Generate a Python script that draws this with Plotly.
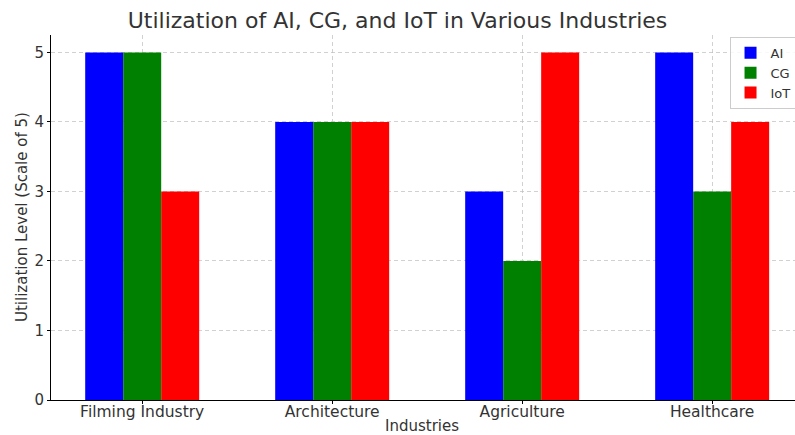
import plotly.graph_objects as go

industries = ["Filming Industry", "Architecture", "Agriculture", "Healthcare"]
ai = [5, 4, 3, 5]
cg = [5, 4, 2, 3]
iot = [3, 4, 5, 4]
series = [("AI", ai, "#0000ff"), ("CG", cg, "#008000"), ("IoT", iot, "#ff0000")]

fig = go.Figure()
for name, vals, color in series:
    fig.add_trace(go.Bar(name=name, x=list(range(len(industries))), y=vals,
                         marker=dict(color=color, line=dict(width=0))))

font_family = "DejaVu Sans"
text_color = "#333333"
fig.update_layout(
    width=795, height=435,
    margin=dict(l=51, r=0, t=35, b=35, autoexpand=False),
    paper_bgcolor="white", plot_bgcolor="white",
    barmode="group", bargap=0.4, bargroupgap=0,
    font=dict(family=font_family, size=14, color=text_color),
    title=dict(text="Utilization of AI, CG, and IoT in Various Industries",
               x=0.5, xanchor="center", y=0.953, yanchor="middle",
               font=dict(size=22, color=text_color)),
    legend=dict(x=0.912, y=0.995, xanchor="left", yanchor="top",
                bgcolor="rgba(255,255,255,0.85)", bordercolor="#cccccc", borderwidth=1,
                font=dict(size=13, color=text_color), tracegroupgap=0),
    showlegend=True,
    annotations=[
        dict(text="Industries", xref="paper", yref="paper", x=(422 - 51) / 744,
             y=-(426 - 400) / 365, xanchor="center", yanchor="middle", showarrow=False,
             font=dict(size=15, color=text_color)),
        dict(text="Utilization Level (Scale of 5)", xref="paper", yref="paper",
             x=(22 - 51) / 744, y=(400 - 217) / 365, xanchor="center", yanchor="middle",
             textangle=-90, showarrow=False, font=dict(size=15, color=text_color)),
    ],
)
grid_dash = "4px,3px"
grid_color = "rgba(190,190,190,0.7)"
fig.update_xaxes(
    range=[-0.48, 3.436], tickmode="array", tickvals=list(range(len(industries))),
    ticktext=industries, showgrid=True, gridcolor=grid_color, griddash=grid_dash, gridwidth=1,
    ticks="outside", ticklen=3, tickcolor="black", showline=True, linecolor="black", linewidth=1,
    tickfont=dict(size=15.5, color=text_color), automargin=False, zeroline=False,
    ticklabelstandoff=-6, layer="above traces",
)
fig.update_yaxes(
    range=[0, 5.25], tickvals=[0, 1, 2, 3, 4, 5], showgrid=True, gridcolor=grid_color,
    griddash=grid_dash, gridwidth=1, ticks="outside", ticklen=3, tickcolor="black",
    showline=True, linecolor="black", linewidth=1, zeroline=False,
    tickfont=dict(size=15, color=text_color), automargin=False, layer="above traces",
)
fig.write_html("out.html")
